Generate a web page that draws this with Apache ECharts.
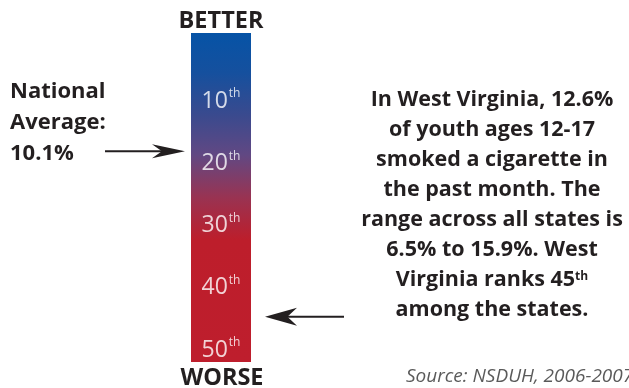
<!DOCTYPE html>
<html><head><meta charset="utf-8">
<script src="https://cdn.jsdelivr.net/npm/echarts@6/dist/echarts.min.js"></script>
<style>html,body{margin:0;padding:0;background:#fff}#c{width:629px;height:388px}</style>
</head><body><div id="c"></div>
<script>
// ---- data ----
const categories = ['West Virginia'];
const scaleTop = -0.6;       // rank value at the top end of the scale bar
const scaleBottom = 52.25;   // rank value at the bottom end of the scale bar
const rankTicks = [10, 20, 30, 40, 50];
const nationalAvgPos = 18.4; // where the national average (10.1%) falls on the rank scale
const wvRank = 45;
const endLabels = ['BETTER', 'WORSE'];
const leftNote = ['National', 'Average:', '10.1%'];
const rightNote = ['In West Virginia, 12.6%', 'of youth ages 12-17', 'smoked a cigarette in',
  'the past month. The', 'range across all states is', '6.5% to 15.9%. West',
  'Virginia ranks 45{s|th}', 'among the states.'];
const sourceText = 'Source: NSDUH, 2006-2007';

// ---- chart ----
const FONT = '"Open Sans", "Noto Sans", sans-serif';
const DARK = '#231f20';
const chart = echarts.init(document.getElementById('c'), null, {renderer: 'canvas'});

const gradient = {
  type: 'linear', x: 0, y: 0, x2: 0, y2: 1,
  colorStops: [
    {offset: 0, color: '#0653a6'},
    {offset: 0.12, color: '#15509e'},
    {offset: 0.25, color: '#3a4a8e'},
    {offset: 0.37, color: '#614883'},
    {offset: 0.5, color: '#993352'},
    {offset: 0.63, color: '#bd1e2b'},
    {offset: 1, color: '#be1e2d'}
  ]
};

chart.setOption({
  animation: false,
  grid: {left: 191, width: 60, top: 33, height: 329},
  xAxis: {type: 'category', data: categories, show: false},
  yAxis: {type: 'value', inverse: true, min: scaleTop, max: scaleBottom, show: false},
  series: [
    {
      type: 'custom',
      data: [[0, scaleTop, scaleBottom]],
      encode: {x: 0, y: [1, 2]},
      renderItem: function (params, api) {
        const a = api.coord([api.value(0), api.value(1)]);
        const b = api.coord([api.value(0), api.value(2)]);
        const w = api.size([1, 0])[0];
        return {type: 'rect', shape: {x: a[0] - w / 2, y: a[1], width: w, height: b[1] - a[1]},
                style: {fill: gradient}};
      },
      z: 1
    },
    {
      type: 'scatter',
      data: rankTicks.map(r => [0, r]),
      symbolSize: 1,
      itemStyle: {color: 'transparent'},
      label: {
        show: true, position: 'inside', offset: [0, 2],
        formatter: p => '{n|' + p.value[1] + '}{s|th}',
        rich: {
          n: {fontFamily: FONT, fontSize: 23, color: '#fff', lineHeight: 26, verticalAlign: 'middle'},
          s: {fontFamily: FONT, fontSize: 12, color: '#fff', lineHeight: 26, verticalAlign: 'top', padding: [0, 0, 0, 1]}
        }
      },
      z: 3
    },
    {
      type: 'custom',
      data: [[0, nationalAvgPos, -1], [0, wvRank, 1]],
      encode: {x: 0, y: 1},
      renderItem: function (params, api) {
        const c = api.coord([api.value(0), api.value(1)]);
        const side = api.value(2);
        const w = api.size([1, 0])[0];
        let tip, tail, L, h;
        if (side < 0) { tip = c[0] - w / 2 - 6; tail = tip - 80; L = 33; h = 7; }
        else { tip = c[0] + w / 2 + 14; tail = tip + 79; L = 32; h = 9; }
        const dir = side < 0 ? 1 : -1; // direction the arrow points (+1 right)
        const y = c[1];
        const back = tip - dir * L;
        return {type: 'group', children: [
          {type: 'line', shape: {x1: tail, y1: y, x2: tip - dir * 10, y2: y},
           style: {stroke: DARK, lineWidth: 2}},
          {type: 'polygon', shape: {points: [[tip, y], [back, y - h], [back + dir * L * 0.3, y], [back, y + h]]},
           style: {fill: DARK}}
        ]};
      },
      z: 2
    }
  ],
  graphic: [
    {type: 'text', x: 221, y: 21, style: {text: endLabels[0], font: 'bold 23.5px ' + FONT, fill: DARK, textAlign: 'center', textVerticalAlign: 'middle'}},
    {type: 'text', x: 222, y: 378, style: {text: endLabels[1], font: 'bold 23.5px ' + FONT, fill: DARK, textAlign: 'center', textVerticalAlign: 'middle'}},
    {type: 'text', x: 10, y: 76, style: {text: leftNote.join('\n'), font: 'bold 22px ' + FONT, fill: DARK, lineHeight: 31, textAlign: 'left', textVerticalAlign: 'top'}},
    {type: 'text', x: 492, y: 85, style: {
      text: rightNote.join('\n'), fontFamily: FONT, fontWeight: 'bold', fontSize: 21.5, fill: DARK, lineHeight: 30,
      textAlign: 'center', textVerticalAlign: 'top',
      rich: {s: {fontFamily: FONT, fontWeight: 'bold', fontSize: 12, fill: DARK, lineHeight: 30, verticalAlign: 'top', padding: [6, 0, 0, 0]}}
    }},
    {type: 'text', x: 406, y: 377, style: {text: sourceText, font: 'italic 19px ' + FONT, fill: '#5a5a5a', textAlign: 'left', textVerticalAlign: 'middle'}}
  ]
});
</script></body></html>
